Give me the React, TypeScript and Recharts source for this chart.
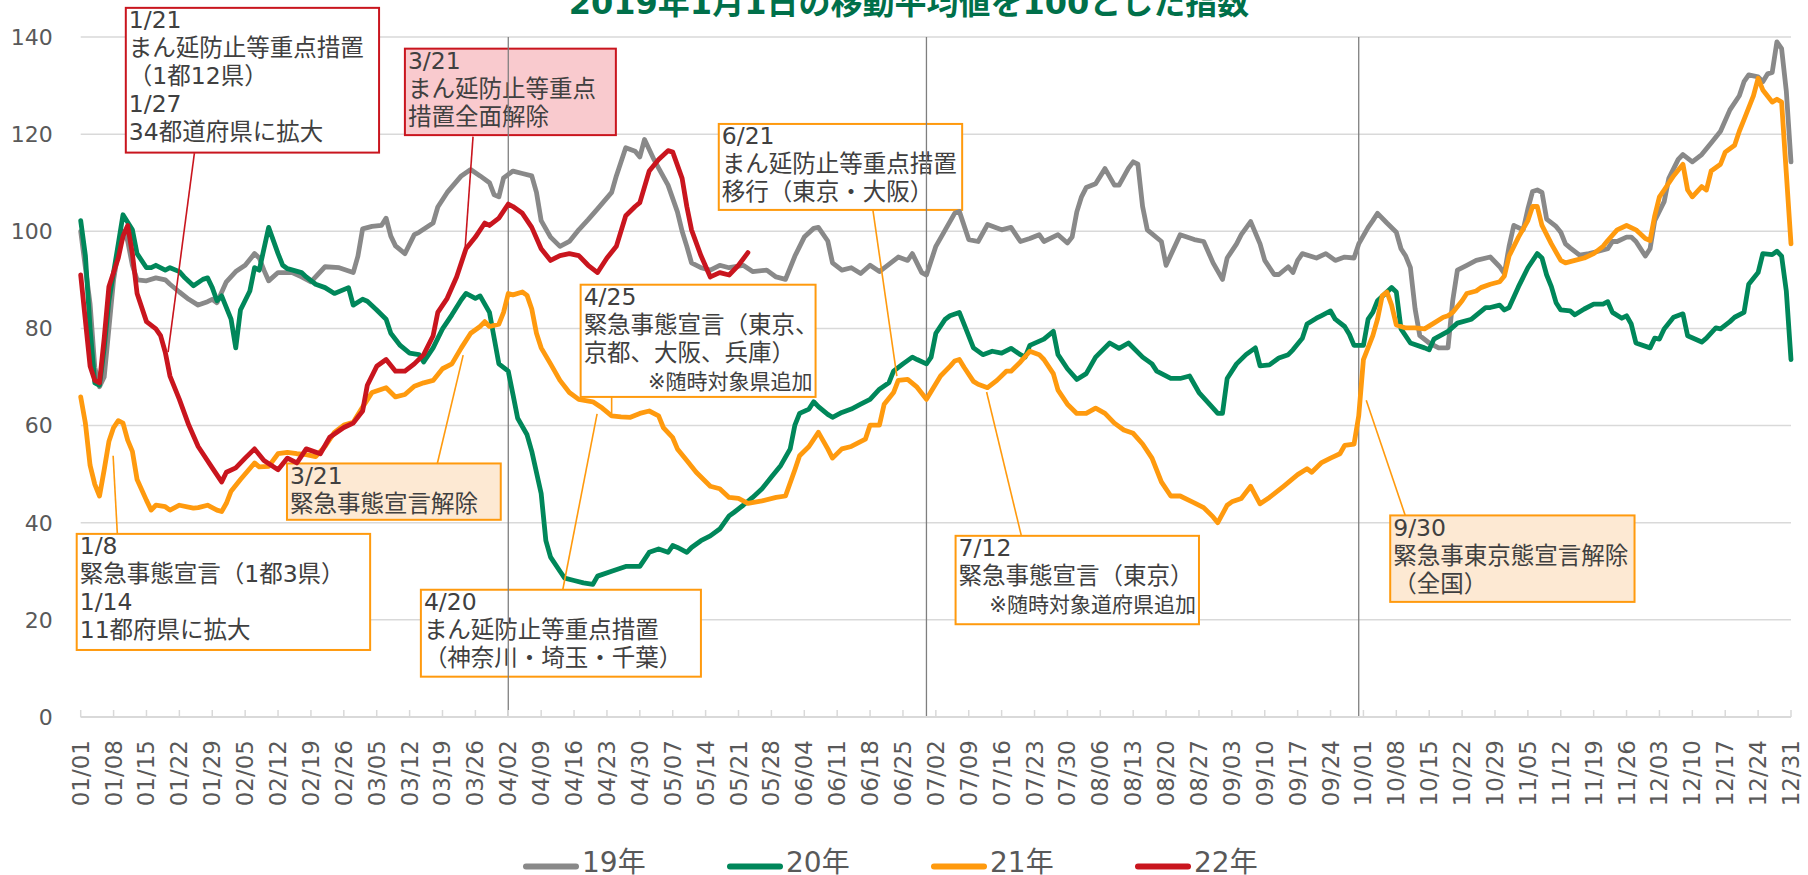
import React from "react";
import {
  LineChart,
  Line,
  XAxis,
  YAxis,
  CartesianGrid,
  ReferenceLine,
  ReferenceArea,
} from "recharts";

/* ── data (index, 2019-01-01 moving average = 100) ── */
const tickLabels = [
  "01/01", "01/08", "01/15", "01/22", "01/29", "02/05", "02/12", "02/19", "02/26",
  "03/05", "03/12", "03/19", "03/26", "04/02", "04/09", "04/16", "04/23", "04/30",
  "05/07", "05/14", "05/21", "05/28", "06/04", "06/11", "06/18", "06/25", "07/02",
  "07/09", "07/16", "07/23", "07/30", "08/06", "08/13", "08/20", "08/27", "09/03",
  "09/10", "09/17", "09/24", "10/01", "10/08", "10/15", "10/22", "10/29", "11/05",
  "11/12", "11/19", "11/26", "12/03", "12/10", "12/17", "12/24", "12/31",
];
const tickDays = tickLabels.map((_, i) => i * 7);
const yTicks = [0, 20, 40, 60, 80, 100, 120, 140];

// [day of year (0 = 01/01), value]
const y19: [number, number][] = [
  [0, 100], [2, 85], [3, 72], [4, 68], [5, 70], [6, 80], [7, 90], [8, 96], [9, 100], [10, 98],
  [11, 93], [12, 90], [14, 89.8], [16, 90.4], [18, 90], [19, 89.1], [21, 87.5], [23, 86],
  [25, 84.8], [27, 85.5], [28, 86], [29, 85.3], [31, 89.6], [33, 91.7], [35, 93], [37, 95.4],
  [38, 94.5], [39, 92], [40, 89.8], [42, 91.5], [45, 91.5], [47, 90.6], [49, 89.6], [52, 92.7],
  [55, 92.5], [58, 91.5], [59, 94.9], [60, 100.5], [62, 101], [64, 101.2], [65, 102.7], [66, 99],
  [67, 97], [69, 95.4], [71, 99.3], [72, 99.8], [75, 101.7], [76, 105], [78, 108], [81, 111.4],
  [83, 112.7], [85, 111.4], [87, 110], [88, 107.5], [89, 107.1], [90, 111], [92, 112.4],
  [94, 111.9], [96, 111.4], [97, 108], [98, 102.2], [100, 98.8], [102, 96.9], [104, 97.9],
  [106, 100.3], [108, 102.4], [110, 104.6], [113, 108], [114, 111.4], [116, 117.2], [118, 116.5],
  [119, 115.3], [120, 118.9], [122, 114.8], [123, 113], [125, 109.5], [127, 104], [128, 100],
  [129, 96.9], [130, 93.5], [132, 92.5], [134, 92], [136, 93], [138, 92.5], [141, 93],
  [143, 91.7], [146, 92], [148, 90.6], [150, 90.1], [152, 94.9], [154, 98.8], [156, 100.6],
  [157, 100.8], [159, 98], [160, 93.5], [162, 92], [164, 92.5], [166, 91.3], [168, 93],
  [170, 91.7], [174, 94.7], [176, 94], [177, 95.4], [179, 91.5], [180, 91], [182, 96.9],
  [184, 100.3], [186, 103.7], [187, 104.1], [189, 98.3], [191, 97.9], [193, 101.4], [196, 100.3],
  [198, 100.8], [200, 97.9], [202, 98.5], [204, 99.3], [205, 97.9], [208, 99.3], [210, 97.6],
  [211, 98.8], [212, 104], [213, 107.1], [214, 109], [216, 109.8], [218, 112.9], [220, 109.5],
  [221, 109.5], [223, 113], [224, 114.3], [225, 113.8], [226, 105.1], [227, 100.3], [230, 97.9],
  [231, 93], [234, 99.3], [237, 98.3], [239, 97.9], [241, 93.5], [243, 90.1], [244, 94.5],
  [246, 97.4], [247, 99.3], [249, 102], [251, 97.4], [252, 94], [254, 91.1], [255, 91.1],
  [257, 92.7], [258, 91.5], [259, 94], [260, 95.4], [263, 94.5], [265, 95.4], [267, 94],
  [269, 94.7], [271, 94.5], [272, 97.4], [274, 100.8], [275, 102.2], [276, 103.7], [278, 101.7],
  [280, 99.8], [281, 96.4], [282, 94.9], [283, 92.5], [284, 84], [285, 78.5], [287, 77],
  [289, 76], [291, 76], [292, 85.7], [293, 92], [295, 93], [297, 94], [300, 94.7], [302, 92.7],
  [303, 91.3], [304, 96.9], [305, 101.2], [307, 100.3], [308, 104.6], [309, 108.2], [310, 108.5],
  [311, 108], [312, 102.5], [314, 101], [315, 99.8], [316, 97.4], [317, 96.6], [319, 95.1],
  [321, 95.4], [323, 95.9], [325, 96.4], [326, 97.9], [327, 97.9], [329, 98.8], [330, 98.8],
  [331, 97.9], [333, 94.9], [334, 96.4], [335, 102.2], [337, 106.1], [338, 110.9], [340, 114.8],
  [341, 115.8], [343, 114.3], [345, 115.8], [347, 118.2], [349, 120.6], [351, 125], [353, 127.9],
  [354, 130.8], [355, 132.2], [357, 131.8], [358, 130.8], [359, 132.4], [360, 132.7], [361, 139],
  [362, 137.6], [363, 128.9], [364, 114.3],
];

const y20: [number, number][] = [
  [0, 102.2], [1, 95], [2, 80], [3, 68.8], [4, 68.3], [5, 76], [6, 85.7], [8, 97.4], [9, 103.4],
  [11, 100.3], [12, 95.4], [14, 92.5], [15, 92.5], [16, 93], [18, 92], [19, 92.5], [21, 91.7],
  [22, 90.6], [24, 88.8], [26, 90.1], [27, 90.4], [28, 88.4], [29, 85.7], [30, 86.7], [32, 81.9],
  [33, 76], [34, 83.8], [36, 87.7], [37, 92.5], [38, 92], [40, 100.8], [42, 95.4], [43, 93],
  [44, 92.3], [47, 91.5], [48, 90.6], [50, 89.1], [52, 88.4], [54, 87.2], [57, 88.4], [58, 84.8],
  [60, 86], [61, 85.6], [63, 83.8], [65, 81.9], [66, 79], [68, 76.5], [70, 74.9], [72, 74.6],
  [73, 73.1], [75, 76], [77, 79.9], [79, 82.8], [81, 85.9], [82, 87.2], [84, 86.2], [85, 86.7],
  [87, 83.3], [88, 78], [89, 72.7], [91, 71.2], [92, 66.4], [93, 61.5], [95, 58.1], [96, 54.7],
  [98, 46], [99, 36.3], [100, 32.9], [102, 30], [103, 28.6], [105, 28.1], [107, 27.6], [109, 27.3],
  [110, 29], [113, 30], [116, 31], [119, 31], [121, 33.9], [123, 34.6], [125, 33.9], [126, 35.3],
  [127, 34.9], [129, 33.9], [130, 34.9], [132, 36.3], [134, 37.3], [136, 38.7], [138, 41.4],
  [139, 42.1], [141, 43.6], [143, 45.2], [145, 47], [147, 49.4], [149, 51.8], [151, 55.2],
  [152, 60.1], [153, 62.5], [155, 63.4], [156, 64.9], [157, 63.9], [159, 62.3], [160, 61.7],
  [162, 62.7], [164, 63.4], [166, 64.4], [168, 65.4], [170, 67.5], [172, 68.8], [173, 71.2],
  [175, 72.7], [177, 74.1], [178, 73.6], [180, 72.7], [181, 74.1], [182, 79], [184, 81.9],
  [185, 82.6], [187, 83.3], [188, 80.9], [190, 76], [192, 74.6], [194, 75.3], [196, 74.9],
  [198, 75.9], [200, 74.6], [201, 74.1], [202, 76.5], [205, 77.8], [207, 79.4], [208, 74.6],
  [210, 71.7], [212, 69.5], [214, 70.7], [216, 74.1], [219, 77], [221, 75.9], [223, 77],
  [226, 74.1], [228, 72.7], [229, 71.2], [232, 69.7], [234, 69.7], [236, 70.2], [238, 66.8],
  [241, 63.6], [242, 62.5], [243, 62.5], [244, 69.7], [246, 72.7], [248, 74.6], [250, 76],
  [251, 72.3], [253, 72.5], [255, 73.9], [257, 74.6], [258, 75.6], [260, 78], [261, 80.9],
  [263, 82.1], [264, 82.6], [266, 83.6], [267, 81.9], [269, 80.4], [270, 78.8], [271, 76.5],
  [273, 76.5], [274, 81.9], [275, 83.3], [276, 85.7], [279, 88.4], [280, 87.5], [281, 79.9],
  [283, 77], [286, 76], [287, 75.6], [288, 77.8], [291, 79.4], [293, 81.1], [296, 81.9],
  [299, 84.3], [300, 84.3], [302, 84.8], [303, 83.8], [304, 84.3], [306, 88.6], [308, 92.5],
  [310, 95.4], [311, 94.5], [312, 91], [313, 88.6], [314, 85.3], [315, 83.8], [317, 83.6],
  [318, 82.8], [320, 84], [322, 85], [324, 85], [325, 85.5], [326, 83.3], [328, 82.1],
  [329, 82.6], [330, 80.9], [331, 77], [334, 76], [335, 78], [336, 77.8], [337, 79.9],
  [339, 82.3], [341, 83], [342, 78.5], [345, 77.2], [346, 78], [348, 80.1], [349, 79.9],
  [351, 81.4], [352, 82.3], [354, 83.3], [355, 89.1], [357, 91.5], [358, 95.4], [360, 95.2],
  [361, 95.9], [362, 94.9], [363, 87.7], [364, 73.6],
];

const y21: [number, number][] = [
  [0, 65.9], [1, 60.5], [2, 51.8], [3, 47.9], [4, 45.5], [5, 50.9], [6, 56.7], [7, 59.6], [8, 61],
  [9, 60.5], [10, 57], [11, 54.7], [12, 48.9], [14, 44.6], [15, 42.6], [16, 43.6], [18, 43.3],
  [19, 42.6], [21, 43.6], [24, 43], [25, 43.1], [27, 43.6], [29, 42.6], [30, 42.3], [31, 44],
  [32, 46.5], [34, 48.9], [37, 52.3], [38, 51.5], [40, 51.6], [42, 54.2], [44, 54.5], [46, 54.2],
  [48, 54], [50, 53.6], [52, 55.7], [54, 58.6], [56, 60.1], [58, 60.7], [60, 63.8], [62, 66.8],
  [65, 67.8], [67, 65.9], [69, 66.4], [71, 68.1], [73, 68.8], [75, 69.3], [77, 71.7], [79, 72.7],
  [81, 76], [83, 79], [85, 80.4], [86, 81.4], [87, 80.4], [89, 80.9], [90, 83.3], [91, 87.2],
  [92, 86.9], [94, 87.5], [95, 86.8], [96, 84], [97, 79], [98, 76], [100, 72.7], [102, 69.3],
  [104, 66.8], [106, 65.4], [109, 64.9], [111, 63.6], [113, 62], [115, 61.8], [117, 61.7],
  [119, 62.5], [121, 63], [123, 62], [124, 59.6], [126, 57.5], [127, 55.2], [129, 52.8],
  [131, 50.4], [134, 47.5], [136, 47], [138, 45.2], [140, 45], [142, 44], [145, 44.5],
  [148, 45.2], [150, 45.5], [152, 50.9], [153, 53.8], [155, 55.7], [157, 58.6], [159, 55.2],
  [160, 53.3], [162, 55.2], [164, 55.7], [167, 57.2], [168, 60.1], [170, 60.1], [171, 64.4],
  [173, 66.8], [174, 69.3], [176, 69.5], [178, 67.9], [180, 65.4], [181, 67], [183, 70.2],
  [185, 72.2], [186, 73.3], [187, 73.6], [188, 72], [190, 69.1], [191, 68.5], [193, 67.8],
  [195, 69.3], [197, 71.2], [198, 71.2], [200, 73.1], [202, 75.3], [204, 74.6], [205, 73.6],
  [207, 70.7], [208, 67.3], [210, 64.4], [212, 62.5], [214, 62.5], [216, 63.6], [218, 62.5],
  [220, 60.5], [222, 59.1], [224, 58.4], [226, 56.2], [228, 53.3], [230, 48.4], [232, 45.5],
  [234, 45.5], [237, 44.1], [239, 43.1], [241, 41.2], [242, 40], [244, 43.6], [245, 44.3],
  [247, 45], [249, 47.5], [251, 43.9], [253, 45.2], [256, 47.5], [259, 49.9], [261, 51.1],
  [262, 50.4], [264, 52.3], [266, 53.3], [268, 54.2], [269, 55.9], [271, 56.2], [272, 62],
  [273, 73.6], [275, 78.5], [276, 81.9], [277, 86.7], [278, 87.5], [279, 84.8], [280, 80.7],
  [282, 80.1], [284, 80.1], [286, 79.9], [288, 81.1], [290, 82.3], [291, 82.6], [292, 83.3],
  [294, 85.7], [295, 87.2], [297, 87.7], [298, 88.4], [300, 89.1], [302, 89.6], [303, 90.8],
  [304, 94.9], [306, 98.8], [308, 102.2], [309, 105.1], [310, 105.1], [311, 101.2], [313, 97.4],
  [315, 94], [316, 93.5], [318, 94], [320, 94.5], [322, 95.4], [324, 96.9], [325, 98.1],
  [327, 100.3], [329, 101.2], [331, 100.3], [333, 98.5], [334, 98.1], [335, 103.2], [336, 107.1],
  [337, 108.5], [339, 111.4], [341, 113.8], [342, 108.5], [343, 107.1], [345, 109.2], [346, 108.5],
  [347, 112.4], [349, 113.8], [350, 116.3], [352, 117.7], [353, 120.6], [354, 123], [356, 127.9],
  [357, 131.5], [358, 129.1], [360, 126.6], [361, 127.2], [362, 126.6], [363, 112], [364, 97.4],
];

const y22: [number, number][] = [
  [0, 91], [2, 72.2], [3, 69.3], [4, 68.8], [5, 78], [6, 88.6], [8, 94.5], [9, 99], [10, 101.2],
  [11, 95.4], [12, 87.2], [14, 81.4], [16, 79.9], [17, 78.5], [18, 75.1], [19, 70.2], [21, 65.4],
  [23, 60.1], [25, 55.7], [28, 51.3], [30, 48.4], [31, 50.4], [33, 51.3], [35, 53.3], [37, 55.2],
  [39, 52.8], [42, 50.9], [44, 53.3], [46, 52.3], [48, 55.2], [51, 54.2], [53, 57.6], [56, 59.6],
  [58, 60.5], [60, 63], [61, 68.3], [63, 72.2], [65, 73.6], [67, 71.2], [69, 71.2], [71, 72.7],
  [73, 74.6], [75, 78.5], [76, 83.3], [78, 86.2], [80, 90.6], [82, 96.4], [84, 98.8], [86, 101.7],
  [87, 101.2], [89, 102.7], [91, 105.6], [92, 105.1], [94, 103.7], [96, 100.8], [98, 96.4],
  [100, 94], [102, 95], [104, 95.4], [106, 95], [108, 93], [110, 91.5], [112, 94.5], [114, 96.9],
  [116, 103.2], [118, 105.1], [119, 105.9], [121, 112.4], [123, 114.8], [125, 116.6], [126, 116.3],
  [128, 110.9], [129, 105.1], [130, 100.3], [132, 95], [134, 90.6], [136, 91.5], [138, 91],
  [140, 93], [142, 95.6],
];

const GRAY = "#898989";
const GREEN = "#00875A";
const ORANGE = "#FF9A0E";
const RED = "#C9151E";

const series = [
  { name: "19年", color: GRAY, points: y19 },
  { name: "20年", color: GREEN, points: y20 },
  { name: "21年", color: ORANGE, points: y21 },
  { name: "22年", color: RED, points: y22 },
];

// quarter separators
const markerDays = [91, 180, 272];

const FONT = "'DejaVu Sans', 'Noto Sans CJK JP', sans-serif";
const TEXT = "#404040";

type Note = {
  x1: number; x2: number; y1: number; y2: number;
  stroke: string; fill: string; lines: string[]; note?: string;
};

// annotation boxes, in chart (day, value) units
const notes: Note[] = [
  { x1: 9.6, x2: 63.5, y1: 116.2, y2: 146, stroke: RED, fill: "#FFFFFF",
    lines: ["1/21", "まん延防止等重点措置", "（1都12県）", "1/27", "34都道府県に拡大"] },
  { x1: 69, x2: 113.9, y1: 119.8, y2: 137.6, stroke: RED, fill: "#F9CACE",
    lines: ["3/21", "まん延防止等重点", "措置全面解除"] },
  { x1: 43.9, x2: 89.4, y1: 40.6, y2: 52.2, stroke: ORANGE, fill: "#FDE9D3",
    lines: ["3/21", "緊急事態宣言解除"] },
  { x1: -0.85, x2: 61.6, y1: 13.8, y2: 37.7, stroke: ORANGE, fill: "#FFFFFF",
    lines: ["1/8", "緊急事態宣言（1都3県）", "1/14", "11都府県に拡大"] },
  { x1: 72.4, x2: 132, y1: 8.3, y2: 26.2, stroke: ORANGE, fill: "#FFFFFF",
    lines: ["4/20", "まん延防止等重点措置", "（神奈川・埼玉・千葉）"] },
  { x1: 106.4, x2: 156.4, y1: 65.9, y2: 89, stroke: ORANGE, fill: "#FFFFFF",
    lines: ["4/25", "緊急事態宣言（東京、", "京都、大阪、兵庫）"], note: "※随時対象県追加" },
  { x1: 135.8, x2: 187.6, y1: 104.4, y2: 122.1, stroke: ORANGE, fill: "#FFFFFF",
    lines: ["6/21", "まん延防止等重点措置", "移行（東京・大阪）"] },
  { x1: 186.2, x2: 238, y1: 19.1, y2: 37.3, stroke: ORANGE, fill: "#FFFFFF",
    lines: ["7/12", "緊急事態宣言（東京）"], note: "※随時対象道府県追加" },
  { x1: 278.7, x2: 330.7, y1: 23.7, y2: 41.5, stroke: ORANGE, fill: "#FDE9D3",
    lines: ["9/30", "緊急事東京態宣言解除", "（全国）"] },
];

// leader lines from boxes to the series
const leaders: { stroke: string; a: [number, number]; b: [number, number] }[] = [
  { stroke: RED, a: [24.2, 116.1], b: [18.6, 75.1] },
  { stroke: RED, a: [83.5, 119.5], b: [81.8, 96.3] },
  { stroke: ORANGE, a: [75.9, 52.2], b: [81.4, 74.5] },
  { stroke: ORANGE, a: [7.8, 37.7], b: [6.9, 53.8] },
  { stroke: ORANGE, a: [102.6, 26.2], b: [109.9, 62.4] },
  { stroke: ORANGE, a: [113, 65.9], b: [113, 62.5] },
  { stroke: ORANGE, a: [168.6, 104.4], b: [173.7, 70.2] },
  { stroke: ORANGE, a: [200.2, 37.3], b: [192.8, 66.9] },
  { stroke: ORANGE, a: [281.9, 41.5], b: [273.6, 65.2] },
];

const toRows = (pts: [number, number][]) => pts.map(([d, v]) => ({ d, v }));

function XTick({ x, y, payload }: any) {
  const label = tickLabels[Math.round(payload.value / 7)];
  return (
    <g>
      <line x1={x} x2={x} y1={y - 7} y2={y} stroke="#D9D9D9" strokeWidth={1.5} />
      <text
        x={x}
        y={y + 23}
        transform={`rotate(-90 ${x} ${y + 23})`}
        textAnchor="end"
        dominantBaseline="central"
        fontFamily={FONT}
        fontSize={23}
        fill="#595959"
      >
        {label}
      </text>
    </g>
  );
}

function noteShape(n: Note) {
  return (p: any) => {
    const { x, y, width, height } = p;
    return (
      <g>
        <rect x={x} y={y} width={width} height={height} fill={n.fill} stroke={n.stroke} strokeWidth={2} />
        <text fontFamily={FONT} fontSize={23.5} fill={TEXT}>
          {n.lines.map((t, i) => (
            <tspan key={i} x={x + 3} y={y + 20.5 + i * 28}>
              {t}
            </tspan>
          ))}
        </text>
        {n.note && (
          <text
            x={x + width - 3}
            y={y + 20.5 + n.lines.length * 28}
            textAnchor="end"
            fontFamily={FONT}
            fontSize={21}
            fill={TEXT}
          >
            {n.note}
          </text>
        )}
      </g>
    );
  };
}

export default function App() {
  return (
    <div
      style={{
        position: "absolute",
        left: 0,
        top: 0,
        width: 1808,
        height: 875,
        overflow: "hidden",
        background: "#FFFFFF",
      }}
    >
      <LineChart width={1808} height={875} margin={{ top: 37, right: 17, bottom: 0, left: 0 }}>
        <CartesianGrid vertical={false} stroke="#D9D9D9" strokeWidth={1.5} />
        <XAxis
          type="number"
          dataKey="d"
          domain={[0, 364]}
          ticks={tickDays}
          interval={0}
          height={158}
          tickSize={0}
          tickMargin={0}
          tickLine={false}
          axisLine={{ stroke: "#D9D9D9", strokeWidth: 2 }}
          tick={(p: any) => <XTick {...p} />}
        />
        <YAxis
          type="number"
          domain={[0, 140]}
          ticks={yTicks}
          width={80.7}
          axisLine={false}
          tickLine={false}
          tickSize={0}
          tickMargin={28}
          tick={{ fill: "#595959", fontSize: 22, fontFamily: FONT }}
        />
        {markerDays.map((d) => (
          <ReferenceLine key={d} x={d} stroke="#7F7F7F" strokeWidth={1.3} />
        ))}
        {series.map((s) => (
          <Line
            key={s.name}
            data={toRows(s.points)}
            dataKey="v"
            name={s.name}
            type="linear"
            stroke={s.color}
            strokeWidth={4.8}
            strokeLinejoin="round"
            strokeLinecap="round"
            dot={false}
            activeDot={false}
            isAnimationActive={false}
          />
        ))}
        {leaders.map((l, i) => (
          <ReferenceLine
            key={`l${i}`}
            segment={[{ x: l.a[0], y: l.a[1] }, { x: l.b[0], y: l.b[1] }]}
            stroke={l.stroke}
            strokeWidth={1.6}
            ifOverflow="visible"
          />
        ))}
        {notes.map((n, i) => (
          <ReferenceArea
            key={`n${i}`}
            x1={n.x1}
            x2={n.x2}
            y1={n.y1}
            y2={n.y2}
            ifOverflow="visible"
            shape={noteShape(n)}
          />
        ))}
      </LineChart>

      <svg
        width={1808}
        height={875}
        style={{ position: "absolute", left: 0, top: 0, pointerEvents: "none" }}
      >
        <text
          x={909}
          y={14}
          textAnchor="middle"
          fontFamily={FONT}
          fontWeight="bold"
          fontSize={32}
          fill="#00704A"
        >
          2019年1月1日の移動平均値を100とした指数
        </text>
        {series.map((s, i) => {
          const lx = 523 + i * 204;
          return (
            <g key={s.name}>
              <line x1={lx + 3} x2={lx + 53} y1={866.5} y2={866.5} stroke={s.color} strokeWidth={6} strokeLinecap="round" />
              <text x={lx + 59} y={872} fontFamily={FONT} fontSize={28} fill="#595959">
                {s.name}
              </text>
            </g>
          );
        })}
      </svg>
    </div>
  );
}
